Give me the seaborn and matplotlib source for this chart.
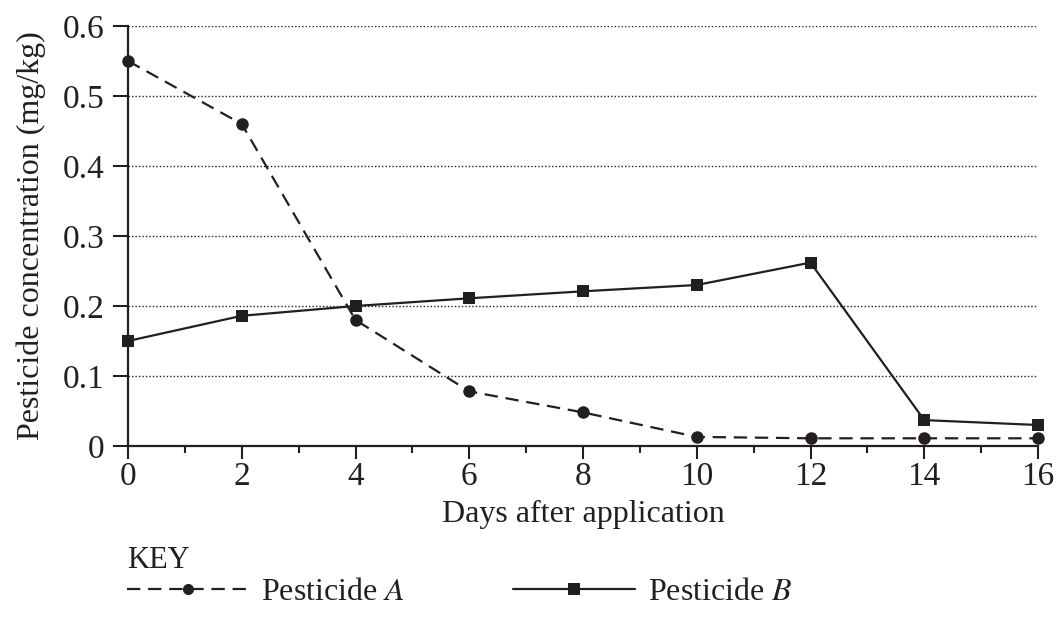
import pandas as pd
import matplotlib.pyplot as plt
import seaborn as sns
from matplotlib.ticker import MultipleLocator
from matplotlib.lines import Line2D

# values
days = [0, 2, 4, 6, 8, 10, 12, 14, 16]
pesticide_a = [0.55, 0.46, 0.18, 0.078, 0.048, 0.013, 0.011, 0.011, 0.011]
pesticide_b = [0.15, 0.186, 0.20, 0.211, 0.221, 0.23, 0.262, 0.037, 0.030]
y_ticks = [0, 0.1, 0.2, 0.3, 0.4, 0.5, 0.6]
y_tick_labels = ['0', '0.1', '0.2', '0.3', '0.4', '0.5', '0.6']

df = pd.DataFrame({
    'day': days * 2,
    'conc': pesticide_a + pesticide_b,
    'pesticide': ['A'] * len(days) + ['B'] * len(days),
})

sns.set_style('white')
plt.rcParams['font.family'] = ['Liberation Serif', 'DejaVu Serif']
plt.rcParams['mathtext.fontset'] = 'stix'
ink = '#231f20'
dash = (6, 3.5)

fig = plt.figure(figsize=(10.56, 6.22), dpi=100)
ax = fig.add_axes([128 / 1056, 1 - 446 / 622, 910 / 1056, 420 / 622])

# dotted grid first so lines sit on top
for v in y_ticks[1:]:
    ax.axhline(v, color=ink, lw=1.0, ls=(0, (1, 1.5)), zorder=0)

sns.lineplot(data=df, x='day', y='conc', style='pesticide',
             markers={'A': 'o', 'B': 's'}, dashes={'A': dash, 'B': ''},
             color=ink, lw=1.6, markersize=9, markeredgewidth=0,
             legend=False, ax=ax, clip_on=False, zorder=3)

ax.set_xlim(0, 16)
ax.set_ylim(0, 0.6)
ax.set_xticks(days)
ax.xaxis.set_minor_locator(MultipleLocator(1))
ax.set_yticks(y_ticks)
ax.set_yticklabels(y_tick_labels)
ax.tick_params(axis='x', which='major', direction='out', length=9, width=1.5,
               color=ink, labelsize=24, labelcolor=ink, pad=2)
ax.tick_params(axis='x', which='minor', direction='out', length=5, width=1.5, color=ink)
ax.tick_params(axis='y', direction='out', length=11, width=1.5, color=ink,
               labelsize=24, labelcolor=ink, pad=6)
ax.tick_params(bottom=True, left=True, which='both')

for side in ['top', 'right']:
    ax.spines[side].set_visible(False)
for side in ['left', 'bottom']:
    ax.spines[side].set_color(ink)
    ax.spines[side].set_linewidth(1.6)

ax.set_xlabel('Days after application', fontsize=23, color=ink)
ax.set_ylabel('Pesticide concentration (mg/kg)', fontsize=23, color=ink)
ax.xaxis.set_label_coords(0.5, -0.128)
ax.yaxis.set_label_coords(-0.09, 0.5)

fig.text(127 / 1056, 1 - 560 / 622, 'KEY', fontsize=22, color=ink, va='center')

handles = [
    Line2D([], [], color=ink, lw=1.6, ls=(0, dash), marker='o', markersize=8,
           markeredgewidth=0),
    Line2D([], [], color=ink, lw=1.6, marker='s', markersize=8, markeredgewidth=0),
]
fig.legend(handles, [r'Pesticide $\mathit{A}$', r'Pesticide $\mathit{B}$'],
           loc='center left', bbox_to_anchor=(127 / 1056, 1 - 592 / 622), ncol=2,
           frameon=False, fontsize=23, handlelength=3.8, handletextpad=0.4,
           columnspacing=3.4, labelcolor=ink, borderaxespad=0, borderpad=0)

fig.savefig('out.png', dpi=100)
